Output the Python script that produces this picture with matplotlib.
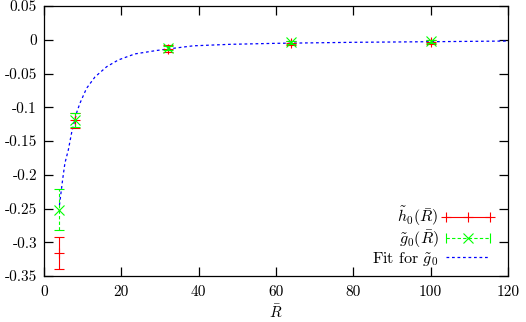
import numpy as np
import matplotlib
matplotlib.use('Agg')
import matplotlib.pyplot as plt
from matplotlib.lines import Line2D
from matplotlib.legend_handler import HandlerLine2D, HandlerTuple

plt.rcParams['font.family'] = 'cmr10'
plt.rcParams['mathtext.fontset'] = 'cm'
plt.rcParams['font.size'] = 11

# Data.
rbar = [4, 8, 32, 64, 100]
h0 = [-0.316, -0.119, -0.0135, -0.0045, -0.0028]
h0_err = [0.024, 0.011, 0.005, 0.003, 0.003]
g0 = [-0.2515, -0.119, -0.0125, -0.0040, -0.0022]
g0_err = [0.0305, 0.010, 0.003, 0.002, 0.002]

# Fit curve for g0.
fit_r = [4.0, 4.8, 5.4, 6.3, 7.2, 8.5, 9.3, 11.0, 13.2, 16.2, 19.2, 23.5,
         29.0, 32.0, 38.6, 48.0, 60.0, 80.0, 100.0, 120.0]
fit_g = [-0.245, -0.208, -0.183, -0.163, -0.136, -0.107, -0.094, -0.072,
         -0.055, -0.040, -0.030, -0.021, -0.016, -0.0137, -0.0090, -0.0068,
         -0.0053, -0.0038, -0.0029, -0.0019]

xticks = [0, 20, 40, 60, 80, 100, 120]
yticks = [0.05, 0, -0.05, -0.1, -0.15, -0.2, -0.25, -0.3, -0.35]
ytick_labels = ['0.05', '0', '-0.05', '-0.1', '-0.15', '-0.2', '-0.25', '-0.3', '-0.35']

fig = plt.figure(figsize=(5.26, 3.22), dpi=100)
ax = fig.add_axes([44 / 526, 1 - 276 / 322, 464 / 526, 270 / 322])

red = '#ff0000'
green = '#00ff00'
blue = '#0000ff'

# h0 with error bars.
ax.errorbar(rbar, h0, yerr=h0_err, fmt='+', color=red, ms=7, mew=0.8,
            elinewidth=0.8, capsize=3.6, capthick=0.8, zorder=3)

# g0 with dashed error bars.
eb = ax.errorbar(rbar, g0, yerr=g0_err, fmt='x', color=green, ms=6.5, mew=0.8,
                 elinewidth=0.8, capsize=3.6, capthick=0.8, zorder=4)
for col in eb[2]:
    col.set_linestyle((0, (3, 2)))

# Fit line.
ax.plot(fit_r, fit_g, color=blue, lw=0.9, dashes=(2.2, 2.2), zorder=2)

ax.set_xlim(0, 120)
ax.set_ylim(-0.35, 0.05)
ax.set_xticks(xticks)
ax.set_xticklabels([str(t) for t in xticks])
ax.set_yticks(yticks)
ax.set_yticklabels(ytick_labels)
ax.tick_params(direction='in', length=6.5, width=0.9, top=True, right=True)
ax.tick_params(axis='x', pad=7)
ax.tick_params(axis='y', pad=5)
for s in ax.spines.values():
    s.set_linewidth(0.9)
ax.set_xlabel(r'$\bar{R}$', labelpad=3)

# Legend, gnuplot style: text left, sample right.
h_red = Line2D([], [], color=red, lw=0.8, marker='+', ms=7, mew=0.8)
g_line = Line2D([], [], color=green, lw=0.8, dashes=(3, 2), marker='|', ms=7, mew=0.8)
g_mark = Line2D([], [], color=green, lw=0, marker='x', ms=6.5, mew=0.8)
f_line = Line2D([], [], color=blue, lw=0.9, dashes=(2.2, 2.2))

ax.legend([h_red, (g_line, g_mark), f_line],
          [r'$\tilde{h}_0(\bar{R})$', r'$\tilde{g}_0(\bar{R})$', r'Fit for $\tilde{g}_0$'],
          handler_map={h_red: HandlerLine2D(numpoints=3, marker_pad=0),
                       g_line: HandlerLine2D(numpoints=2, marker_pad=0),
                       g_mark: HandlerLine2D(numpoints=1),
                       tuple: HandlerTuple(ndivide=1)},
          loc='lower right', bbox_to_anchor=(0.978, 0.0), frameon=False,
          markerfirst=False, handlelength=2.75, handletextpad=0.45,
          labelspacing=0.0, borderpad=0, fontsize=11.5)

fig.savefig('out.png', dpi=100)
